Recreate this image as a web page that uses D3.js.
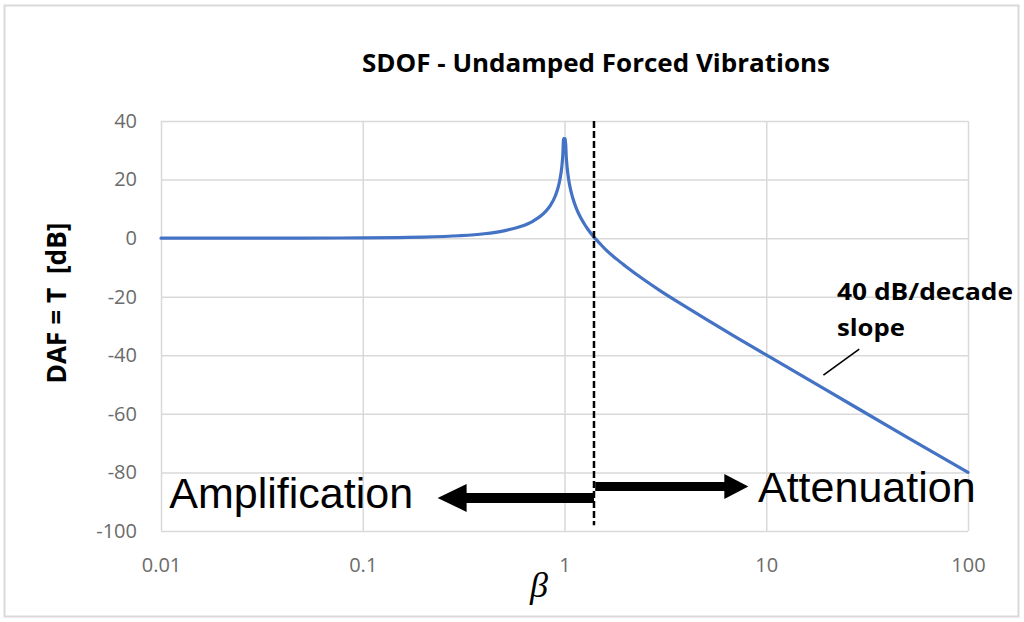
<!DOCTYPE html>
<html>
<head>
<meta charset="utf-8">
<script src="https://cdn.jsdelivr.net/npm/d3@7"></script>
<style>
  body { margin: 0; background: #fff; }
  svg { display: block; }
</style>
</head>
<body>
<div id="chart"></div>
<script>
// values
const betaValues = [0.01, 0.02, 0.05, 0.1, 0.15, 0.2, 0.3, 0.4, 0.5, 0.6, 0.7, 0.8, 0.85, 0.9, 0.93, 0.95, 0.97, 0.98, 0.99,
                    1.01, 1.02, 1.03, 1.05, 1.07, 1.1, 1.15, 1.2, 1.25, 1.3, 1.414, 1.5, 1.6, 1.8, 2, 2.5, 3, 4, 5, 7, 10, 20, 50, 100]
const dafValues = [0.0, 0.0, 0.02, 0.09, 0.2, 0.35, 0.82, 1.51, 2.5, 3.88, 5.85, 8.87, 11.1, 14.4, 17.3, 20.2, 24.4, 28.0, 34.0,
                   33.9, 27.9, 24.3, 19.8, 16.8, 13.6, 9.8, 7.1, 5.0, 3.2, 0.0, -1.9, -3.9, -7.0, -9.5, -14.4, -18.1, -23.5, -27.6, -33.6, -39.9, -52.0, -68.0, -80.0]

const xTicks = [0.01, 0.1, 1, 10, 100]
const xTickLabels = ["0.01", "0.1", "1", "10", "100"]
const yTicks = [-100, -80, -60, -40, -20, 0, 20, 40]

const markerBeta = 1.4

const width = 1024, height = 622
const plot = { left: 161, right: 968, top: 121, bottom: 531 }

let x = d3.scaleLog().domain([0.01, 100]).range([plot.left, plot.right])
let y = d3.scaleLinear().domain([-100, 40]).range([plot.bottom, plot.top])

let svg = d3.select("#chart").append("svg")
    .attr("width", width)
    .attr("height", height)

// outer frame
svg.append("rect")
    .attr("x", 4.5).attr("y", 5.5)
    .attr("width", 1014).attr("height", 611)
    .attr("fill", "#fff")
    .attr("stroke", "#d9d9d9")
    .attr("stroke-width", 2)

// y axis + horizontal grid
let yAxis = svg.append("g")
    .attr("transform", `translate(${plot.left},0)`)
    .call(d3.axisLeft(y).tickValues(yTicks).tickSize(-(plot.right - plot.left)).tickPadding(24)
        .tickFormat(d => String(d)))
yAxis.select(".domain").remove()
yAxis.selectAll("line").attr("stroke", "#d9d9d9").attr("stroke-width", 1.5)
yAxis.selectAll("text")
    .style("font-family", "Open Sans")
    .style("font-size", "20px")
    .attr("fill", "#6b6b6b")

// x axis + vertical grid
let xAxis = svg.append("g")
    .attr("transform", `translate(0,${plot.bottom})`)
    .call(d3.axisBottom(x).tickValues(xTicks).tickSize(-(plot.bottom - plot.top))
        .tickFormat((d, i) => xTickLabels[i]))
xAxis.select(".domain").remove()
xAxis.selectAll("line").attr("stroke", "#d9d9d9").attr("stroke-width", 1.5)
xAxis.selectAll("text")
    .attr("y", 41).attr("dy", 0)
    .style("font-family", "Open Sans")
    .style("font-size", "20px")
    .attr("fill", "#6b6b6b")

// curve
let points = betaValues.map((b, i) => [b, dafValues[i]])
let line = d3.line()
    .x(d => x(d[0]))
    .y(d => y(d[1]))
    .curve(d3.curveMonotoneX)

svg.append("path")
    .datum(points)
    .attr("d", line)
    .attr("fill", "none")
    .attr("stroke", "#4472c4")
    .attr("stroke-width", 3.2)
    .attr("stroke-linejoin", "round")
    .attr("stroke-linecap", "round")

// dashed marker at the crossover
svg.append("line")
    .attr("x1", x(markerBeta)).attr("x2", x(markerBeta))
    .attr("y1", plot.top).attr("y2", y(-98))
    .attr("stroke", "#000")
    .attr("stroke-width", 2.5)
    .attr("stroke-dasharray", "7,3")

// arrows
const arrows = [
    { from: markerBeta, to: 0.235, level: -88.7, shaft: 10, headLen: 29, headHalf: 14 },
    { from: 1.42, to: 8.15, level: -84.8, shaft: 9, headLen: 24, headHalf: 12.5 }
]
arrows.forEach(a => {
    let x0 = x(a.from), x1 = x(a.to), yc = y(a.level)
    let dir = x1 > x0 ? 1 : -1
    let xb = x1 - dir * a.headLen
    let s = a.shaft / 2
    let p = d3.path()
    p.moveTo(x0, yc - s)
    p.lineTo(xb, yc - s)
    p.lineTo(xb, yc - a.headHalf)
    p.lineTo(x1, yc)
    p.lineTo(xb, yc + a.headHalf)
    p.lineTo(xb, yc + s)
    p.lineTo(x0, yc + s)
    p.closePath()
    svg.append("path").attr("d", p.toString()).attr("fill", "#000")
})

// big annotations
svg.append("text")
    .attr("x", x(0.011)).attr("y", y(-92))
    .style("font-family", "Liberation Sans, Arial")
    .style("font-size", "43px")
    .attr("fill", "#000")
    .text("Amplification")

svg.append("text")
    .attr("x", x(9.1)).attr("y", y(-90))
    .style("font-family", "Liberation Sans, Arial")
    .style("font-size", "43px")
    .attr("fill", "#000")
    .text("Attenuation")

// slope note
svg.append("text")
    .attr("x", 837).attr("y", 300)
    .attr("textLength", 176).attr("lengthAdjust", "spacingAndGlyphs")
    .style("font-family", "Open Sans")
    .style("font-weight", "bold")
    .style("font-size", "23px")
    .text("40 dB/decade")

svg.append("text")
    .attr("x", 837).attr("y", 336)
    .attr("textLength", 68).attr("lengthAdjust", "spacingAndGlyphs")
    .style("font-family", "Open Sans")
    .style("font-weight", "bold")
    .style("font-size", "23px")
    .text("slope")

svg.append("line")
    .attr("x1", x(19.2)).attr("y1", y(-46.8))
    .attr("x2", x(28.9)).attr("y2", y(-37.9))
    .attr("stroke", "#000")
    .attr("stroke-width", 1.6)

// title
svg.append("text")
    .attr("x", 596).attr("y", 72)
    .attr("text-anchor", "middle")
    .attr("textLength", 468).attr("lengthAdjust", "spacingAndGlyphs")
    .style("font-family", "Open Sans")
    .style("font-weight", "bold")
    .style("font-size", "25px")
    .text("SDOF - Undamped Forced Vibrations")

// y title
svg.append("text")
    .attr("transform", "translate(66,303) rotate(-90)")
    .attr("text-anchor", "middle")
    .attr("textLength", 161).attr("lengthAdjust", "spacingAndGlyphs")
    .style("font-family", "Open Sans")
    .style("font-weight", "bold")
    .style("font-size", "26px")
    .style("white-space", "pre")
    .text("DAF = T  [dB]")

// x title
svg.append("text")
    .attr("x", 539).attr("y", 597)
    .attr("text-anchor", "middle")
    .style("font-family", "Liberation Serif, DejaVu Serif")
    .style("font-style", "italic")
    .style("font-size", "36px")
    .text("β")
</script>
</body>
</html>
